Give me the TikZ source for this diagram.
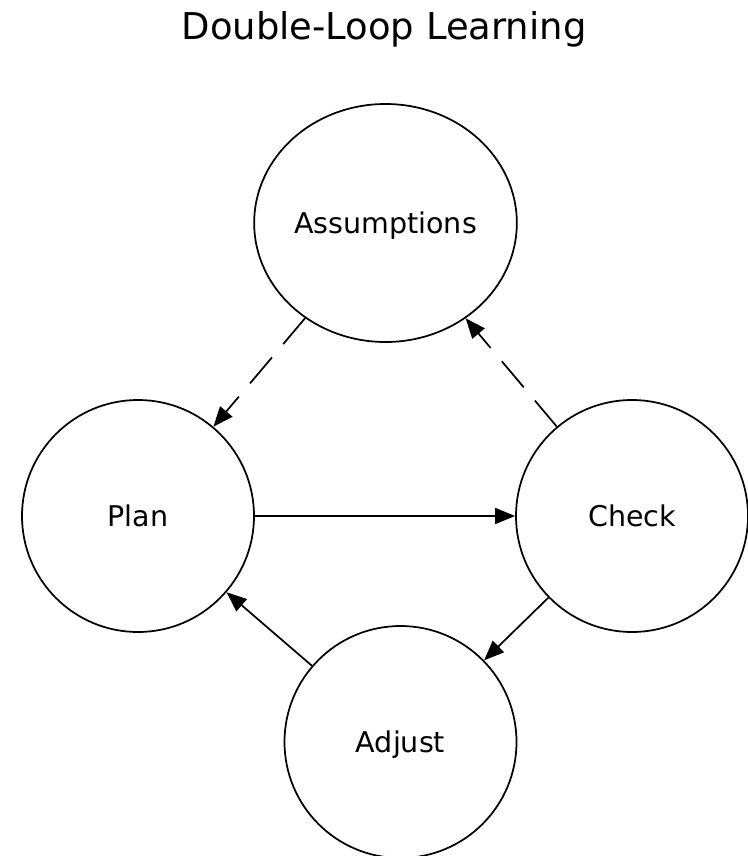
\documentclass[tikz,border=0pt]{standalone}
\usepackage{fontspec}
\setmainfont{DejaVu Sans}
\usetikzlibrary{shapes.geometric,arrows.meta}
\begin{document}
\begin{tikzpicture}[x=0.75pt,y=-0.75pt,
  stage/.style={draw,circle,line width=1.3pt,inner sep=0pt,minimum size=174pt,
    font=\fontsize{21.4pt}{25pt}\selectfont,text height=15.6pt,text depth=0pt},
  wide/.style={draw,ellipse,line width=1.3pt,inner sep=0pt,minimum width=197pt,minimum height=178.5pt,
    font=\fontsize{21.4pt}{25pt}\selectfont,text height=15.6pt,text depth=0pt},
  flow/.style={line width=1.3pt,-{Triangle[length=15pt,width=12pt]}},
  loop/.style={flow,dash pattern=on 25.5pt off 13pt}]
\useasboundingbox (0,0) rectangle (748,856);
\node[anchor=base,font=\fontsize{27.7pt}{33pt}\selectfont] (title) at (384,40) {Double-Loop Learning};
\node[wide] (assumptions) at (385.5,223) {Assumptions};
\node[stage] (plan) at (138,516) {Plan};
\node[stage] (check) at (632,516) {Check};
\node[stage] (adjust) at (400.5,742) {Adjust};
\draw[flow] (plan) -- (check);
\draw[flow] (check) -- (adjust);
\draw[flow] (adjust) -- (plan);
\draw[loop] (assumptions) -- (plan);
\draw[loop] (check) -- (assumptions);
\end{tikzpicture}
\end{document}
